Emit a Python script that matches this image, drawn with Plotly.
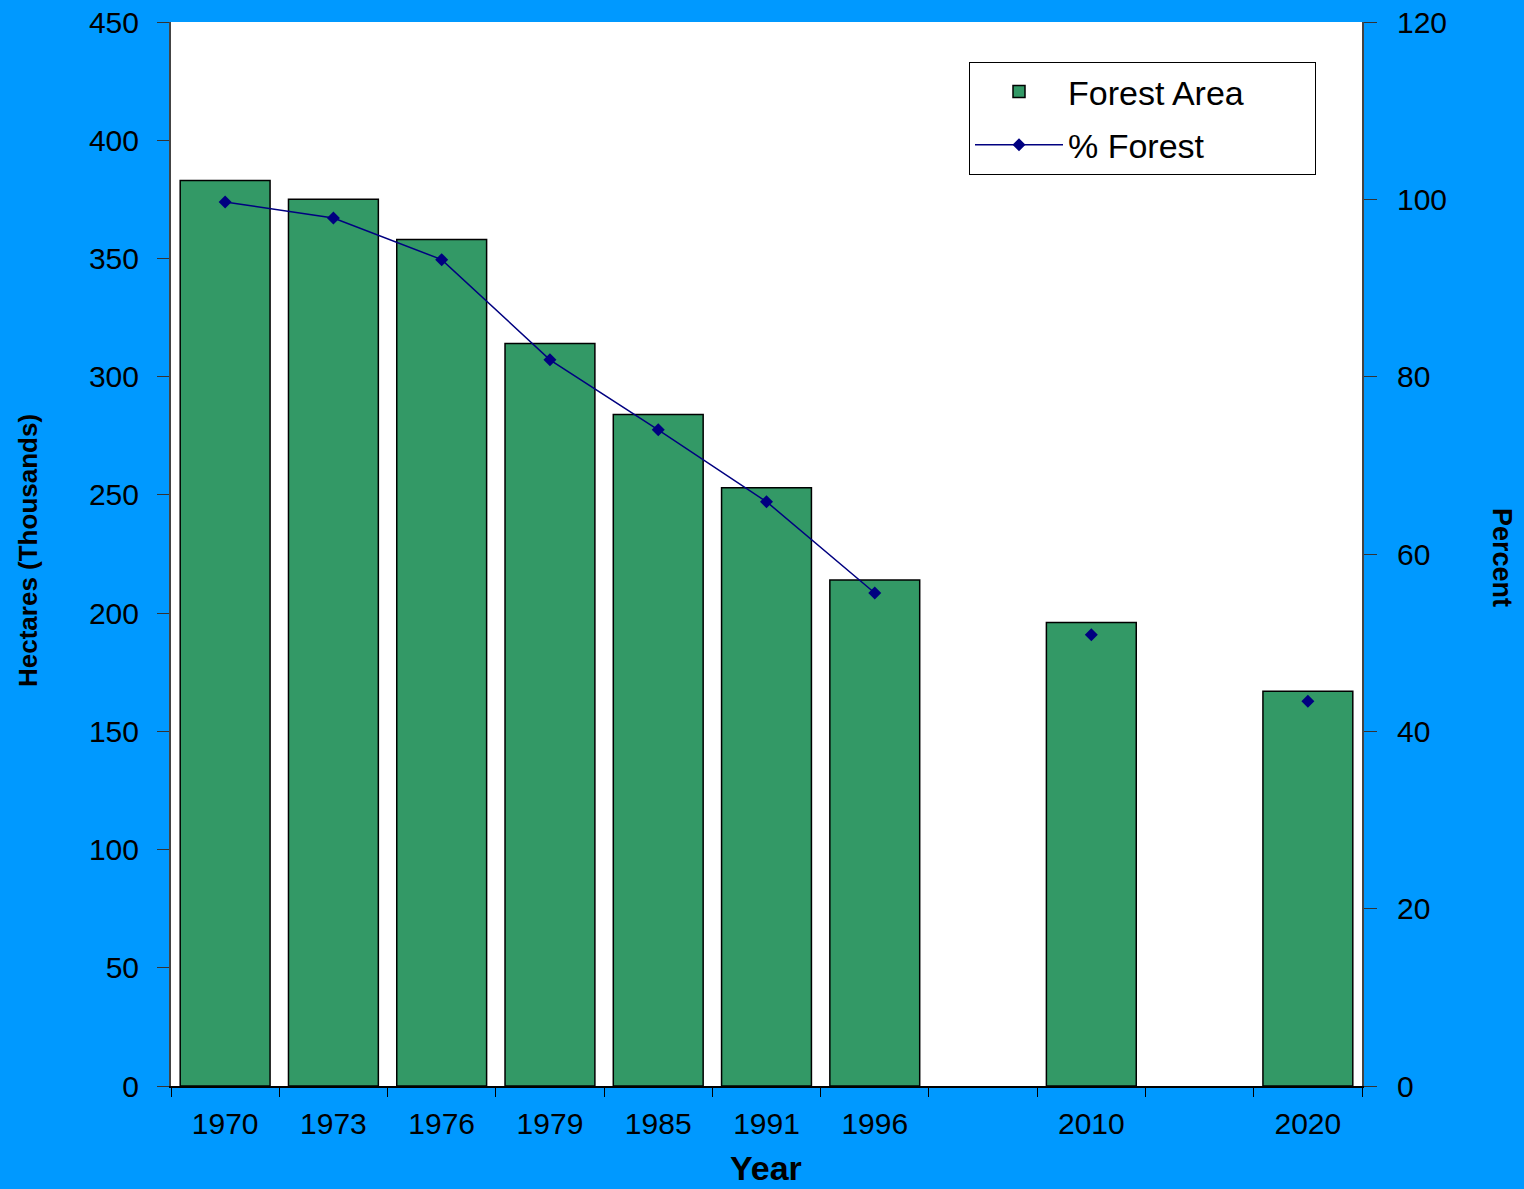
import plotly.graph_objects as go

# ---- data ----
categories = ["1970", "1973", "1976", "1979", "1985", "1991", "1996", " ", "2010", "  ", "2020"]
forest_area = [383, 375, 358, 314, 284, 253, 214, None, 196, None, 167]   # thousand hectares
pct_forest = [99.7, 97.9, 93.2, 81.9, 74.0, 65.9, 55.6, None, 50.9, None, 43.4]  # percent
left_ticks = [0, 50, 100, 150, 200, 250, 300, 350, 400, 450]
right_ticks = [0, 20, 40, 60, 80, 100, 120]
series_names = ["Forest Area", "% Forest"]

BG = "#0099FF"
BAR = "#339966"
LINE = "#000080"
FONT = "Liberation Sans, Arial, sans-serif"
PAD = "\u00a0" * 7  # widen the legend box to the reference's width

fig = go.Figure()
fig.add_trace(go.Bar(
    x=categories, y=forest_area, name=series_names[0] + PAD, legendgroup="a",
    marker=dict(color=BAR, line=dict(color="black", width=1.5)),
    yaxis="y",
))
fig.add_trace(go.Scatter(
    x=categories, y=pct_forest, name=series_names[1], mode="lines+markers", legendgroup="b",
    line=dict(color=LINE, width=1.5),
    marker=dict(symbol="diamond", size=10, color=LINE),
    connectgaps=False, yaxis="y2",
))

fig.update_layout(
    width=1524, height=1189,
    margin=dict(l=171, r=162, t=22, b=103, autoexpand=False),
    paper_bgcolor=BG, plot_bgcolor="white",
    font=dict(family=FONT, color="black", size=30),
    bargap=0.17,
    showlegend=True,
    legend=dict(
        x=(969 - 171) / 1191, y=(1086 - 62) / 1064, xanchor="left", yanchor="top",
        bgcolor="white", bordercolor="black", borderwidth=1,
        font=dict(family=FONT, size=34, color="black"),
        itemwidth=88, tracegroupgap=6,
    ),
    xaxis=dict(
        type="category", categoryorder="array", categoryarray=categories,
        range=[-0.5, len(categories) - 0.5],
        tickvals=categories, ticktext=categories,
        tickson="boundaries", ticks="outside", ticklen=9, tickcolor="black",
        showline=True, linecolor="black", linewidth=1.5,
        showgrid=False, zeroline=False,
        tickfont=dict(family=FONT, size=30),
        ticklabelstandoff=10,
    ),
    yaxis=dict(
        range=[0, 450], tickvals=left_ticks,
        ticks="outside", ticklen=12, tickcolor="#333333",
        showline=True, linecolor="#444444", linewidth=2,
        showgrid=False, zeroline=False,
        tickfont=dict(family=FONT, size=30),
        ticklabelstandoff=12,
    ),
    yaxis2=dict(
        range=[0, 120], tickvals=right_ticks,
        overlaying="y", side="right",
        ticks="outside", ticklen=13, tickcolor="#333333",
        showline=True, linecolor="#444444", linewidth=2,
        showgrid=False, zeroline=False,
        tickfont=dict(family=FONT, size=30),
        ticklabelstandoff=14,
    ),
    annotations=[
        dict(text="<b>Hectares (Thousands)</b>", xref="paper", yref="paper",
             x=-(171 - 28) / 1191, y=(1086 - 551) / 1064, textangle=-90,
             showarrow=False, xanchor="center", yanchor="middle",
             font=dict(family=FONT, size=26, color="black")),
        dict(text="<b>Percent</b>", xref="paper", yref="paper",
             x=1 + (1502 - 1362) / 1191, y=(1086 - 557) / 1064, textangle=90,
             showarrow=False, xanchor="center", yanchor="middle",
             font=dict(family=FONT, size=27, color="black")),
        dict(text="<b>Year</b>", xref="paper", yref="paper",
             x=(766 - 171) / 1191, y=-(1168 - 1086) / 1064,
             showarrow=False, xanchor="center", yanchor="middle",
             font=dict(family=FONT, size=34, color="black")),
    ],
)

fig.write_html("out.html")
